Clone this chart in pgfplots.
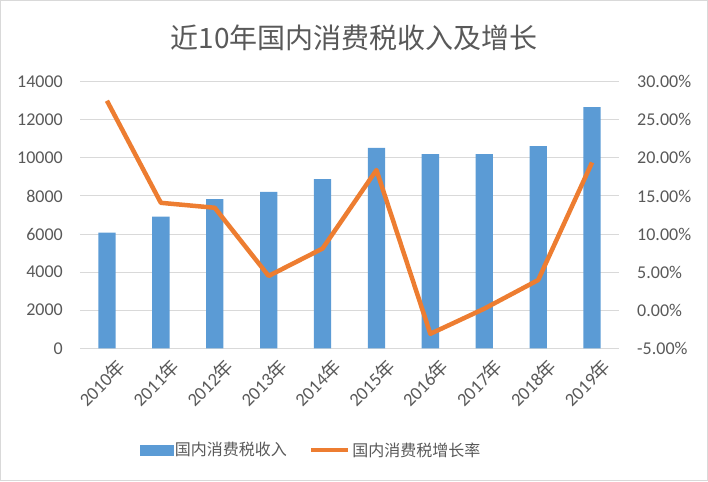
\documentclass[border=0pt]{standalone}
\usepackage{pgfplots}
\pgfplotsset{compat=1.18}
\usepackage{fontspec}
\setmainfont{Carlito}
\newfontfamily\cjk{Noto Sans CJK SC}
\definecolor{barblue}{HTML}{5B9BD5}
\definecolor{lineor}{HTML}{ED7D31}
\definecolor{gridc}{HTML}{D9D9D9}
\definecolor{txt}{HTML}{595959}
\begin{document}
\begin{tikzpicture}[x=1pt,y=1pt]
\draw[gridc, line width=1pt] (0.5,0.5) rectangle (707.5,480.5);
\node[txt, font=\cjk\fontsize{28}{32}\selectfont] at (354,443) {近10年国内消费税收入及增长};
\begin{axis}[at={(80pt,132.7pt)}, anchor=south west, scale only axis,
  width=539pt, height=266.6pt,
  xmin=-0.5, xmax=9.5, ymin=0, ymax=14000,
  ytick={0,2000,...,14000}, xtick={0,...,9},
  xticklabels={2010{\cjk 年},2011{\cjk 年},2012{\cjk 年},2013{\cjk 年},2014{\cjk 年},2015{\cjk 年},2016{\cjk 年},2017{\cjk 年},2018{\cjk 年},2019{\cjk 年}},
  axis line style={draw=none}, major tick length=0pt,
  ymajorgrids, grid style={gridc, line width=1pt},
  scaled y ticks=false,
  /pgf/number format/1000 sep={},
  /pgf/number format/assume math mode=true,
  yticklabel style={font=\fontsize{18}{20}\selectfont, text=txt, inner sep=0pt, xshift=-17pt},
  xticklabel style={rotate=45, anchor=east, font=\fontsize{18.5}{20}\selectfont, text=txt, inner sep=0pt, xshift=0pt, yshift=-21pt},
]
\addplot[ybar, bar width=17.3pt, fill=barblue, draw=none] coordinates {
(0,6070) (1,6910) (2,7840) (3,8210) (4,8890) (5,10520) (6,10200) (7,10200) (8,10620) (9,12670)};
\end{axis}
\begin{axis}[at={(80pt,132.7pt)}, anchor=south west, scale only axis,
  width=539pt, height=266.6pt,
  xmin=-0.5, xmax=9.5, ymin=-5, ymax=30,
  ytick={-5,0,...,30},
  axis x line=none, axis y line*=right, axis line style={draw=none}, major tick length=0pt,
  /pgf/number format/assume math mode=true,
  yticklabel={\pgfmathprintnumber[fixed,fixed zerofill,precision=2]{\tick}\%},
  yticklabel style={font=\fontsize{18}{20}\selectfont, text=txt, inner sep=0pt, anchor=west, xshift=18pt},
  legend columns=2,
  legend style={draw=none, fill=none, at={(0.4286,-0.3815)}, anchor=center,
    font=\cjk\fontsize{16}{18}\selectfont, text=txt,
    /tikz/every even column/.append style={column sep=20pt}},
]
\addlegendimage{legend image code/.code={\fill[barblue] (0pt,-5pt) rectangle (33pt,5pt);}}
\addlegendentry{国内消费税收入}
\addplot[lineor, line width=4.5pt, line join=round, no marks,
  legend image code/.code={\draw[lineor,line width=4.5pt] (0pt,0pt) -- (37pt,0pt);}] coordinates {
(0,27.5) (1,14.1) (2,13.45) (3,4.5) (4,8.1) (5,18.4) (6,-3.1) (7,0.2) (8,3.96) (9,19.4)};
\addlegendentry{国内消费税增长率}
\end{axis}
\end{tikzpicture}
\end{document}
